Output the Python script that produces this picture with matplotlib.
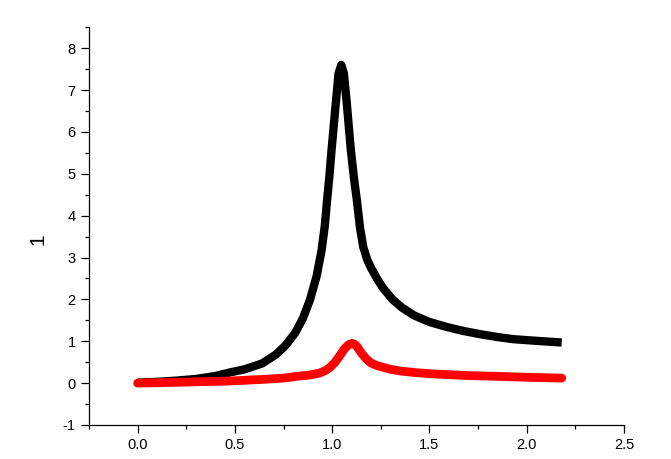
import matplotlib
matplotlib.use('Agg')
import matplotlib.pyplot as plt
from matplotlib.ticker import MultipleLocator

# black curve
black_x = [0.00, 0.10, 0.20, 0.30, 0.40, 0.47, 0.55, 0.64, 0.71, 0.76, 0.81, 0.85,
           0.886, 0.92, 0.946, 0.962, 0.974, 0.987, 0.997, 1.015, 1.033, 1.047,
           1.06, 1.075, 1.087, 1.096, 1.112, 1.127, 1.143, 1.16, 1.18, 1.20,
           1.23, 1.26, 1.31, 1.36, 1.42, 1.50, 1.59, 1.67, 1.76, 1.85, 1.93,
           2.05, 2.18]
black_y = [0.01, 0.03, 0.06, 0.10, 0.17, 0.25, 0.33, 0.47, 0.68, 0.90, 1.20, 1.55,
           1.99, 2.55, 3.18, 3.75, 4.37, 5.00, 5.57, 6.50, 7.40, 7.60,
           7.40, 6.70, 6.05, 5.57, 4.90, 4.37, 3.72, 3.25, 2.95, 2.75,
           2.50, 2.28, 2.00, 1.80, 1.62, 1.46, 1.34, 1.25, 1.17, 1.10, 1.05,
           1.01, 0.97]

# red curve
red_x = [0.00, 0.20, 0.47, 0.65, 0.75, 0.815, 0.88, 0.935, 0.965, 0.99, 1.015,
         1.04, 1.06, 1.08, 1.095, 1.103, 1.115, 1.13, 1.15, 1.175, 1.20, 1.23,
         1.26, 1.30, 1.35, 1.43, 1.52, 1.70, 1.86, 2.00, 2.18]
red_y = [0.00, 0.02, 0.05, 0.09, 0.12, 0.16, 0.19, 0.24, 0.30, 0.38, 0.50,
         0.66, 0.80, 0.90, 0.94, 0.95, 0.93, 0.86, 0.72, 0.58, 0.48, 0.42,
         0.38, 0.33, 0.29, 0.25, 0.22, 0.18, 0.16, 0.14, 0.12]

plt.rcParams['font.family'] = ['Liberation Sans', 'DejaVu Sans']
plt.rcParams['axes.unicode_minus'] = False

fig = plt.figure(figsize=(6.71, 4.59), dpi=100)
ax = fig.add_axes([0.1326, 0.0741, 0.7973, 0.8665])

ax.plot(black_x, black_y, color='black', lw=6.0, solid_capstyle='butt',
        solid_joinstyle='round')
ax.plot(red_x, red_y, color='red', lw=6.3, solid_capstyle='round',
        solid_joinstyle='round')

ax.set_xlim(-0.25, 2.5)
ax.set_ylim(-1, 8.5)
ax.xaxis.set_major_locator(MultipleLocator(0.5))
ax.xaxis.set_minor_locator(MultipleLocator(0.25))
ax.yaxis.set_major_locator(MultipleLocator(1))
ax.yaxis.set_minor_locator(MultipleLocator(0.5))
ax.set_xticks([0.0, 0.5, 1.0, 1.5, 2.0, 2.5])
ax.set_xticklabels(['0.0', '0.5', '1.0', '1.5', '2.0', '2.5'])

for s in ['top', 'right']:
    ax.spines[s].set_visible(False)
for s in ['left', 'bottom']:
    ax.spines[s].set_linewidth(0.9)

ax.tick_params(which='major', direction='out', length=5.5, width=0.9,
               labelsize=10.5, pad=4)
ax.tick_params(which='minor', direction='out', length=3, width=0.9)

ax.set_ylabel('1', fontsize=15)
ax.yaxis.set_label_coords(-0.0785, 0.468)

fig.savefig('out.png', dpi=100)
